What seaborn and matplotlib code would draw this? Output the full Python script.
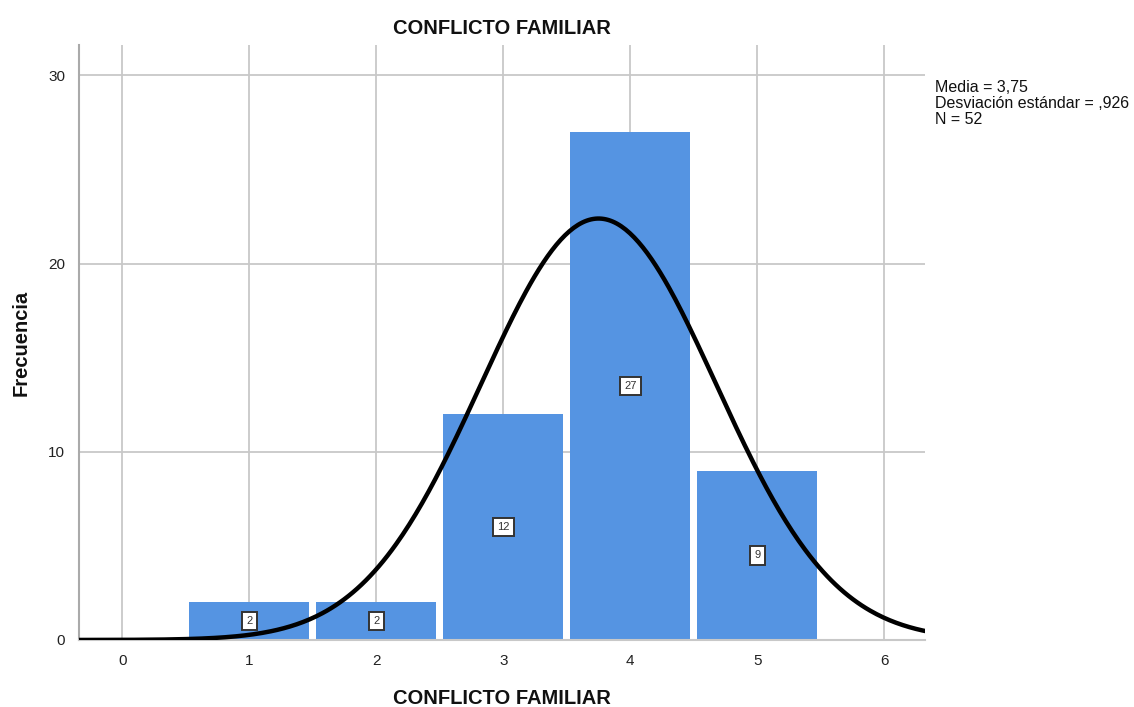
import numpy as np
import pandas as pd
import matplotlib
matplotlib.use("Agg")
import matplotlib.pyplot as plt
import seaborn as sns

valores = [1, 2, 3, 4, 5]
frecuencias = [2, 2, 12, 27, 9]
x_ticks = [0, 1, 2, 3, 4, 5, 6]
y_ticks = [0, 10, 20, 30]

sns.set_style("white")
plt.rcParams['font.family'] = ['Liberation Sans', 'DejaVu Sans']

df = pd.DataFrame({'valor': valores, 'freq': frecuencias})
n = int(df['freq'].sum())
media = (df['valor'] * df['freq']).sum() / n
sd = np.sqrt(((df['valor'] - media) ** 2 * df['freq']).sum() / (n - 1))

fig = plt.figure(figsize=(11.34, 7.07), dpi=100)
ax = fig.add_axes([0.0697, 0.0948, 0.746, 0.841])

# rejilla
for xt in x_ticks:
    ax.axvline(xt, color='#c8c8c8', lw=1.3, zorder=0)
for yt in y_ticks[1:]:
    ax.axhline(yt, color='#c8c8c8', lw=1.3, zorder=0)

sns.histplot(data=df, x='valor', weights='freq', discrete=True, shrink=0.945, ax=ax,
             color='#5594e2', alpha=1, linewidth=0, zorder=2)

# curva normal
xs = np.linspace(-0.4, 6.4, 400)
ys = n * np.exp(-0.5 * ((xs - media) / sd) ** 2) / (sd * np.sqrt(2 * np.pi))
sns.lineplot(x=xs, y=ys, ax=ax, color='black', lw=3.2, zorder=4)

# etiquetas dentro de barras
for v, f in zip(valores, frecuencias):
    ax.text(v, f / 2, str(f), ha='center', va='center', fontsize=8, color='#333333', zorder=5,
            bbox=dict(boxstyle='square,pad=0.38', fc='white', ec='#333333', lw=1.4))

ax.set_xlim(-0.34, 6.32)
ax.set_ylim(0, 31.6)
ax.set_xticks(x_ticks)
ax.set_yticks(y_ticks)
ax.tick_params(axis='both', length=0, labelsize=11, colors='#222222')
ax.tick_params(axis='x', pad=10)
ax.tick_params(axis='y', pad=10)

for s in ['top', 'right']:
    ax.spines[s].set_visible(False)
ax.spines['left'].set_color('#aaaaaa')
ax.spines['left'].set_linewidth(1.5)
ax.spines['bottom'].set_color('#c8c8c8')
ax.spines['bottom'].set_linewidth(1.5)

ax.set_title('CONFLICTO FAMILIAR', fontsize=14.5, fontweight='bold', pad=8, color='#111111')
ax.set_xlabel('CONFLICTO FAMILIAR', fontsize=14.5, fontweight='bold', color='#111111')
ax.set_ylabel('Frecuencia', fontsize=14.5, fontweight='bold', color='#111111')
ax.xaxis.set_label_coords(0.5, -0.083)
ax.yaxis.set_label_coords(-0.057, 0.5)

fig.text(0.8245, 0.887, 'Media = 3,75\nDesviación estándar = ,926\nN = 52',
         fontsize=11.5, va='top', ha='left', linespacing=1.08, color='#111111')

fig.savefig('out.png', dpi=100)
